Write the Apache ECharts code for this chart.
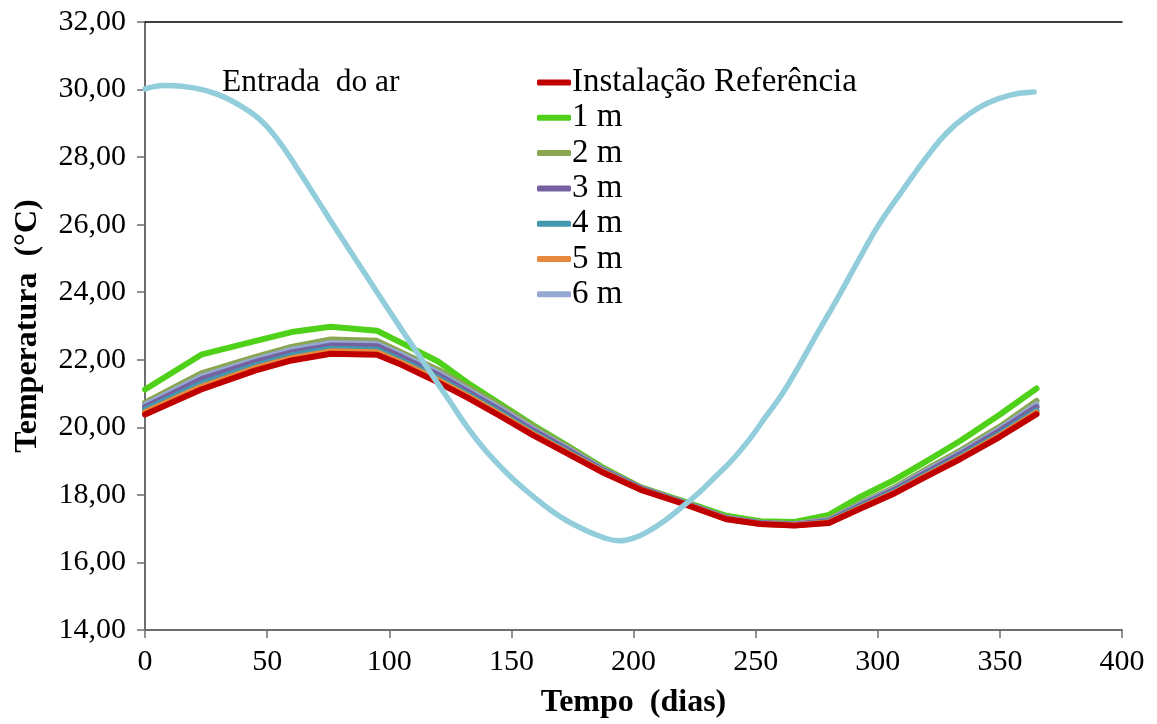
<!DOCTYPE html>
<html>
<head>
<meta charset="utf-8">
<script src="https://cdn.jsdelivr.net/npm/echarts@6/dist/echarts.min.js"></script>
<style>
  html, body { margin: 0; padding: 0; background: #fff; }
  #chart { width: 1157px; height: 724px; }
</style>
</head>
<body>
<div id="chart"></div>
<script>
// Days of the year at which the installation temperatures are sampled
const days = [0, 23, 45, 60, 76, 95, 105, 120, 132, 145, 159, 173, 187, 203, 220, 238, 252, 266, 280, 293, 307, 320, 334, 350, 365];

// Outlet temperature (°C) for the reference installation and each buried depth
const tRef = [20.38, 21.12, 21.68, 21.98, 22.18, 22.15, 21.85, 21.33, 20.88, 20.35, 19.76, 19.22, 18.68, 18.15, 17.75, 17.28, 17.14, 17.09, 17.17, 17.60, 18.05, 18.55, 19.07, 19.72, 20.39];
const t1m  = [21.12, 22.15, 22.55, 22.82, 22.98, 22.86, 22.50, 21.95, 21.32, 20.71, 20.06, 19.45, 18.83, 18.22, 17.82, 17.38, 17.22, 17.20, 17.41, 17.95, 18.45, 19.00, 19.61, 20.38, 21.15];
const t2m  = [20.73, 21.60, 22.08, 22.38, 22.60, 22.56, 22.22, 21.70, 21.20, 20.65, 20.02, 19.42, 18.80, 18.22, 17.80, 17.33, 17.18, 17.14, 17.28, 17.75, 18.22, 18.76, 19.32, 20.02, 20.78];
const t3m  = [20.60, 21.42, 21.93, 22.22, 22.42, 22.40, 22.08, 21.55, 21.06, 20.52, 19.90, 19.33, 18.75, 18.19, 17.78, 17.31, 17.16, 17.12, 17.23, 17.69, 18.15, 18.67, 19.21, 19.90, 20.60];
const t4m  = [20.52, 21.30, 21.83, 22.13, 22.33, 22.30, 21.98, 21.46, 20.98, 20.45, 19.84, 19.28, 18.72, 18.17, 17.77, 17.30, 17.15, 17.11, 17.20, 17.65, 18.10, 18.61, 19.14, 19.81, 20.50];
const t5m  = [20.45, 21.20, 21.75, 22.05, 22.25, 22.22, 21.91, 21.40, 20.93, 20.40, 19.80, 19.25, 18.70, 18.16, 17.76, 17.29, 17.14, 17.10, 17.18, 17.62, 18.07, 18.58, 19.10, 19.76, 20.44];
const t6m  = [20.66, 21.50, 22.00, 22.30, 22.50, 22.47, 22.15, 21.62, 21.12, 20.58, 19.95, 19.37, 18.77, 18.20, 17.79, 17.32, 17.17, 17.13, 17.25, 17.72, 18.18, 18.71, 19.26, 19.95, 20.68];

// Inlet air temperature (°C)
const airDays = [0, 8, 20, 30, 40, 48, 55, 62, 70, 77, 86, 95, 105, 112, 118, 125, 132, 139, 146, 152, 159, 166, 173, 181, 188, 194, 200, 206, 213, 220, 227, 233, 240, 247, 254, 261, 268, 275, 283, 291, 300, 310, 320, 328, 336, 345, 355, 364];
const tAir = [30.02, 30.12, 30.05, 29.85, 29.48, 29.05, 28.45, 27.70, 26.80, 26.00, 25.00, 24.00, 22.90, 22.15, 21.50, 20.75, 20.00, 19.35, 18.80, 18.38, 17.95, 17.55, 17.22, 16.93, 16.73, 16.64, 16.72, 16.92, 17.25, 17.65, 18.08, 18.50, 19.00, 19.60, 20.30, 21.00, 21.85, 22.75, 23.75, 24.80, 25.95, 27.00, 28.00, 28.70, 29.20, 29.60, 29.85, 29.93];

// Axis ticks
const xMin = 0, xMax = 400, xStep = 50;
const yMin = 14, yMax = 32, yStep = 2;

const legendNames = ['Instalação Referência', '1 m', '2 m', '3 m', '4 m', '5 m', '6 m'];

const pairs = (xs, ys) => xs.map((x, i) => [x, ys[i]]);
const serif = '"Liberation Serif", "Times New Roman", serif';

function lineSeries(name, xs, ys, color, width, smooth) {
  return {
    name: name,
    type: 'line',
    data: pairs(xs, ys),
    showSymbol: false,
    symbol: 'none',
    smooth: smooth || false,
    lineStyle: { color: color, width: width, cap: 'round', join: 'round' },
    itemStyle: { color: color },
    emphasis: { disabled: true },
    animation: false
  };
}

const chart = echarts.init(document.getElementById('chart'), null, { renderer: 'canvas' });

const fmt = v => v.toFixed(2).replace('.', ',');

chart.setOption({
  backgroundColor: '#ffffff',
  animation: false,
  title: {
    text: 'Entrada  do ar',
    left: 217,
    top: 62,
    textStyle: { fontFamily: serif, fontSize: 31.5, fontWeight: 'normal', color: '#000' }
  },
  legend: {
    data: legendNames,
    orient: 'vertical',
    left: 537,
    top: 66,
    padding: 0,
    icon: 'roundRect',
    itemWidth: 34,
    itemHeight: 6,
    itemGap: 2.3,
    textStyle: { fontFamily: serif, fontSize: 33, color: '#000', padding: [0, 0, 0, -4] },
    selectedMode: false
  },
  grid: { left: 145, right: 35, top: 22, bottom: 89, containLabel: false },
  xAxis: [
    {
      type: 'value', min: xMin, max: xMax, interval: xStep,
      name: 'Tempo  (dias)', nameLocation: 'middle', nameGap: 57,
      nameTextStyle: { fontFamily: serif, fontSize: 32, fontWeight: 'bold', color: '#000' },
      axisLine: { show: true, lineStyle: { color: '#6e6e6e', width: 2 } },
      axisTick: { show: true, inside: false, length: 8, lineStyle: { color: '#6e6e6e', width: 1.5 } },
      axisLabel: { fontFamily: serif, fontSize: 30, color: '#000', margin: 17 },
      splitLine: { show: false }
    },
    {
      type: 'value', position: 'top', min: xMin, max: xMax,
      axisLine: { show: true, lineStyle: { color: '#000', width: 1.5 } },
      axisTick: { show: false }, axisLabel: { show: false }, splitLine: { show: false }
    }
  ],
  yAxis: [
    {
      type: 'value', min: yMin, max: yMax, interval: yStep,
      name: 'Temperatura  (°C)', nameLocation: 'middle', nameGap: 101, nameRotate: 90,
      nameTextStyle: { fontFamily: serif, fontSize: 32, fontWeight: 'bold', color: '#000' },
      axisLine: { show: true, lineStyle: { color: '#6e6e6e', width: 2 } },
      axisTick: { show: true, inside: false, length: 8, lineStyle: { color: '#6e6e6e', width: 1.5 } },
      axisLabel: { fontFamily: serif, fontSize: 30, color: '#000', margin: 19, formatter: fmt },
      splitLine: { show: false }
    },
    {
      type: 'value', position: 'right', min: yMin, max: yMax,
      axisLine: { show: true, lineStyle: { color: '#6e6e6e', width: 2 } },
      axisTick: { show: false }, axisLabel: { show: false }, splitLine: { show: false }
    }
  ],
  series: [
    lineSeries('1 m', days, t1m, '#4fd11a', 6),
    lineSeries('2 m', days, t2m, '#8aa652', 6),
    lineSeries('6 m', days, t6m, '#95a8d2', 6),
    lineSeries('3 m', days, t3m, '#7560a0', 6),
    lineSeries('4 m', days, t4m, '#4398ae', 6),
    lineSeries('5 m', days, t5m, '#e8883c', 6),
    lineSeries('Instalação Referência', days, tRef, '#c00000', 6),
    lineSeries('Entrada do ar', airDays, tAir, '#92cddc', 5.5, 0.4)
  ]
});
</script>
</body>
</html>
